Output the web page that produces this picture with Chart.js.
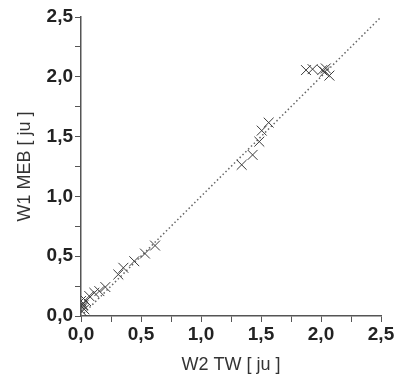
<!DOCTYPE html>
<html>
<head>
<meta charset="utf-8">
<script src="https://cdn.jsdelivr.net/npm/chart.js@4/dist/chart.umd.min.js"></script>
<style>
  html, body { margin: 0; padding: 0; background: #fff; }
  #wrap { width: 401px; height: 380px; }
</style>
</head>
<body>
<div id="wrap"><canvas id="chart"></canvas></div>
<script>
// measured points, W2 TW vs W1 MEB
const w2tw = [0.0, 0.005, 0.008, 0.014, 0.02, 0.028, 0.042, 0.069, 0.111, 0.153, 0.203,
  0.311, 0.353, 0.444, 0.533, 0.617, 1.339, 1.43, 1.486, 1.506, 1.564,
  1.875, 1.93, 2.01, 2.03, 2.04, 2.07];
const w1meb = [0.125, 0.042, 0.097, 0.069, 0.09, 0.056, 0.125, 0.167, 0.194, 0.208, 0.242,
  0.347, 0.403, 0.458, 0.522, 0.589, 1.264, 1.347, 1.458, 1.55, 1.617,
  2.056, 2.064, 2.056, 2.04, 2.07, 2.01];
// y = x reference line
const lineX = [0, 2.5];
const lineY = [0, 2.5];
const tickVals = [0, 0.5, 1.0, 1.5, 2.0, 2.5];

const fmt = v => v.toFixed(1).replace('.', ',');
const tickFont = { family: 'Liberation Sans, Arial, sans-serif', size: 19, weight: 'bold' };
const titleFont = { family: 'Liberation Sans, Arial, sans-serif', size: 18 };

new Chart(document.getElementById('chart').getContext('2d'), {
    type: 'scatter',
    data: {
        datasets: [{
            data: w2tw.map((x, i) => ({ x: x, y: w1meb[i] })),
            pointStyle: 'crossRot',
            pointRadius: 7,
            borderColor: '#3a3a3a',
            borderWidth: 1
        }, {
            type: 'line',
            data: lineX.map((x, i) => ({ x: x, y: lineY[i] })),
            borderColor: '#666',
            borderWidth: 1.5,
            borderDash: [1.5, 2.5],
            pointRadius: 0,
            fill: false
        }]
    },
    options: {
        responsive: true,
        maintainAspectRatio: false,
        animation: false,
        layout: { padding: { left: 0, right: 20, top: 17, bottom: 0 } },
        plugins: {
            legend: { display: false },
            tooltip: { enabled: false }
        },
        scales: {
            x: {
                min: 0, max: 2.5,
                border: { color: '#555', width: 1.5 },
                grid: { drawOnChartArea: false, tickLength: 6, color: '#555' },
                ticks: {
                    stepSize: 0.25,
                    color: '#222',
                    font: tickFont,
                    padding: 1,
                    maxRotation: 0,
                    autoSkip: false,
                    callback: v => tickVals.some(t => Math.abs(t - v) < 1e-6) ? fmt(v) : ''
                },
                title: { display: true, text: 'W2 TW [ ju ]', color: '#333', font: titleFont, padding: { top: 11 } },
                afterFit: s => { s.height = 64; }
            },
            y: {
                min: 0, max: 2.5,
                border: { color: '#555', width: 1.5 },
                grid: { drawOnChartArea: false, tickLength: 6, color: '#555' },
                ticks: {
                    stepSize: 0.25,
                    color: '#222',
                    font: tickFont,
                    padding: 2,
                    autoSkip: false,
                    callback: v => tickVals.some(t => Math.abs(t - v) < 1e-6) ? fmt(v) : ''
                },
                title: { display: true, text: 'W1 MEB [ ju ]', color: '#333', font: titleFont, padding: { top: 14, bottom: 4 } },
                afterFit: s => { s.width = 81; }
            }
        }
    }
});
</script>
</body>
</html>
